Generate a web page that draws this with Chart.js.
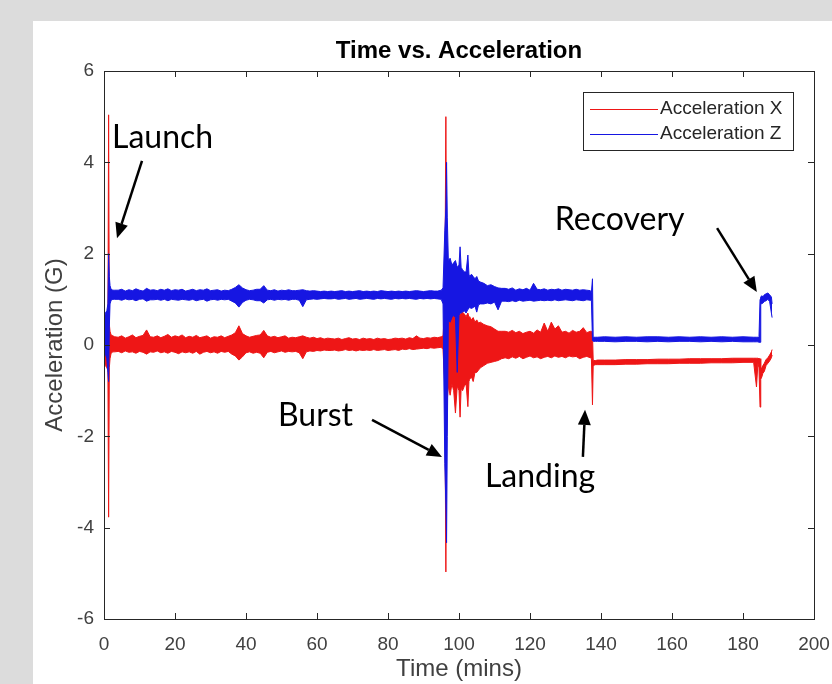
<!DOCTYPE html>
<html>
<head>
<meta charset="utf-8">
<title>Time vs. Acceleration</title>
<script src="https://cdn.jsdelivr.net/npm/chart.js@4.4.1/dist/chart.umd.min.js"></script>
<style>
  html, body { margin: 0; padding: 0; background: #dcdcdc; }
  canvas { display: block; }
</style>
</head>
<body>
<canvas id="accelChart" width="832" height="684"></canvas>
<script>
// Time samples (minutes), denser around launch, burst, landing and recovery.
const minutes = [
  0, 0.4, 0.8, 1.1, 1.3, 1.5, 1.7, 2, 2.5, 3,
  4, 5, 6, 7, 8, 9, 10, 11, 12, 13,
  14, 15, 16, 17, 18, 19, 20, 21, 22, 23,
  24, 25, 26, 27, 28, 29, 30, 31, 32, 33,
  34, 35, 36, 37, 38, 39, 40, 41, 42, 43,
  44, 45, 46, 47, 48, 49, 50, 51, 52, 53,
  54, 55, 56, 57, 58, 59, 60, 61, 62, 63,
  64, 65, 66, 67, 68, 69, 70, 71, 72, 73,
  74, 75, 76, 77, 78, 79, 80, 81, 82, 83,
  84, 85, 86, 87, 88, 89, 90, 91, 92, 93,
  94, 95,
  95.5, 96, 96.3, 96.5, 96.7, 97, 97.5, 98, 98.5, 99, 99.5, 100, 100.3, 100.6, 101, 101.5,
  102, 102.5, 102.8, 103, 103.5, 104, 104.5, 105, 105.5, 106, 107, 108, 109, 110, 111, 112,
  113, 114, 115, 116, 117, 118, 119, 120, 121, 122, 123, 124, 125,
  126, 127, 128, 129, 130, 131, 132, 133, 134, 135, 136, 137,
  137.3, 137.6, 137.8, 138, 138.5, 139,
  141, 144, 147, 150, 153, 156, 159, 162, 165, 168, 171, 174, 177, 180, 183,
  183.8, 184.2, 184.5, 184.8, 185, 185.3, 185.6, 186, 186.5, 187, 187.5, 188, 188.2
];

// Acceleration X (G): upper and lower edge of the noise band
const accelXHigh = [
  0.15, 0.2, 0.25, 0.3, 5.04, 0.45, 0.3, 0.22, 0.2, 0.18,
  0.17, 0.2, 0.15, 0.18, 0.22, 0.16, 0.19, 0.21, 0.33, 0.18,
  0.17, 0.2, 0.16, 0.19, 0.23, 0.17, 0.2, 0.18, 0.22, 0.16,
  0.19, 0.17, 0.21, 0.16, 0.18, 0.2, 0.15, 0.18, 0.17, 0.2,
  0.16, 0.19, 0.22, 0.27, 0.42, 0.25, 0.2, 0.17, 0.19, 0.21,
  0.22, 0.32, 0.2, 0.17, 0.19, 0.16, 0.18, 0.2, 0.15, 0.17,
  0.16, 0.18, 0.2, 0.17, 0.15, 0.17, 0.14, 0.16, 0.13, 0.15,
  0.14, 0.13, 0.15, 0.12, 0.14, 0.16, 0.13, 0.14, 0.12, 0.15,
  0.13, 0.14, 0.12, 0.15, 0.13, 0.14, 0.12, 0.13, 0.15, 0.14,
  0.15, 0.13, 0.16, 0.14, 0.2, 0.15, 0.14, 0.16, 0.15, 0.17,
  0.16, 0.18,
  0.2, 0.8, 5.0, 1.5, 0.9, 0.75, 0.7, 0.78, 0.65, 0.72, 0.7, 0.75, 0.65, 0.7, 0.72, 0.68,
  0.62, 0.7, 0.6, 0.62, 0.55, 0.6, 0.5, 0.55, 0.48, 0.5, 0.45, 0.42, 0.4, 0.35, 0.3, 0.3,
  0.3, 0.28, 0.32, 0.27, 0.3, 0.25, 0.28, 0.3, 0.26, 0.33, 0.28, 0.48, 0.3,
  0.5, 0.35, 0.42, 0.28, 0.3, 0.26, 0.32, 0.28, 0.3, 0.38, 0.27, 0.3,
  0.3, 0.25, -0.33, -0.34, -0.34, -0.33,
  -0.33, -0.33, -0.32, -0.32, -0.32, -0.31, -0.31, -0.31, -0.3, -0.3, -0.3, -0.3, -0.29, -0.29, -0.29,
  -0.29, -0.29, -0.3, -0.3, -0.55, -0.5, -0.45, -0.4, -0.32, -0.28, -0.22, -0.15, -0.1
];
const accelXLow = [
  -0.35, -0.45, -0.5, -0.55, -3.77, -0.5, -0.3, -0.18, -0.15, -0.15,
  -0.14, -0.17, -0.13, -0.16, -0.15, -0.18, -0.14, -0.16, -0.2, -0.15,
  -0.16, -0.13, -0.17, -0.15, -0.18, -0.14, -0.16, -0.19, -0.15, -0.17,
  -0.15, -0.18, -0.14, -0.2, -0.16, -0.14, -0.17, -0.15, -0.18, -0.14,
  -0.16, -0.14, -0.2, -0.24, -0.33, -0.26, -0.17, -0.15, -0.18, -0.16,
  -0.18, -0.28, -0.16, -0.14, -0.17, -0.15, -0.13, -0.16, -0.14, -0.15,
  -0.14, -0.17, -0.3, -0.15, -0.13, -0.14, -0.12, -0.13, -0.11, -0.12,
  -0.12, -0.11, -0.13, -0.12, -0.1, -0.12, -0.11, -0.13, -0.11, -0.12,
  -0.11, -0.12, -0.1, -0.12, -0.11, -0.1, -0.12, -0.11, -0.1, -0.12,
  -0.09, -0.1, -0.08, -0.1, -0.09, -0.08, -0.07, -0.08, -0.06, -0.07,
  -0.06, -0.05,
  -0.1, -0.9, -4.97, -2.0, -1.2, -0.9, -1.1, -0.85, -1.0, -1.49, -0.9, -1.0, -1.58, -0.95, -1.0, -0.9,
  -0.85, -1.35, -0.8, -0.75, -0.7, -0.8, -0.6, -0.6, -0.55, -0.5, -0.45, -0.4, -0.38, -0.36, -0.34, -0.3,
  -0.28, -0.3, -0.26, -0.29, -0.25, -0.3, -0.27, -0.24, -0.28, -0.26, -0.3, -0.27, -0.25,
  -0.28, -0.24, -0.27, -0.25, -0.28, -0.24, -0.26, -0.25, -0.3, -0.27, -0.25, -0.28,
  -0.3, -1.31, -0.45, -0.44, -0.43, -0.43,
  -0.43, -0.43, -0.42, -0.42, -0.41, -0.41, -0.41, -0.4, -0.4, -0.4, -0.39, -0.39, -0.39, -0.38, -0.38,
  -0.92, -0.4, -0.5, -1.36, -0.75, -0.7, -0.62, -0.58, -0.45, -0.4, -0.35, -0.28, -0.22
];

// Acceleration Z (G): upper and lower edge of the noise band
const accelZHigh = [
  0.55, 0.7, 0.75, 0.9, 2.0, 1.5, 1.3, 1.22, 1.2, 1.2,
  1.2, 1.22, 1.18, 1.21, 1.19, 1.23, 1.2, 1.18, 1.24, 1.2,
  1.21, 1.19, 1.22, 1.2, 1.23, 1.19, 1.21, 1.2, 1.22, 1.18,
  1.2, 1.22, 1.19, 1.21, 1.2, 1.23, 1.19, 1.2, 1.21, 1.18,
  1.2, 1.19, 1.22, 1.26, 1.32, 1.25, 1.21, 1.19, 1.2, 1.22,
  1.22, 1.3, 1.2, 1.19, 1.21, 1.18, 1.2, 1.19, 1.21, 1.19,
  1.19, 1.2, 1.21, 1.19, 1.18, 1.19, 1.18, 1.17, 1.18, 1.17,
  1.18, 1.17, 1.18, 1.19, 1.17, 1.18, 1.17, 1.18, 1.19, 1.17,
  1.18, 1.17, 1.18, 1.17, 1.19, 1.18, 1.17, 1.18, 1.17, 1.18,
  1.17, 1.18, 1.17, 1.18, 1.19, 1.18, 1.17, 1.18, 1.19, 1.18,
  1.18, 1.2,
  1.25, 2.5, 3.0, 4.0, 2.8, 1.85, 1.9, 1.75, 1.8, 1.85, 1.7, 1.75, 2.15, 1.7, 1.65, 1.6,
  1.6, 1.97, 1.55, 1.5, 1.55, 1.5, 1.45, 1.5, 1.4, 1.38, 1.35, 1.3, 1.32, 1.28, 1.25, 1.24,
  1.24, 1.22, 1.25, 1.2, 1.23, 1.21, 1.24, 1.2, 1.35, 1.22, 1.21, 1.23, 1.2,
  1.22, 1.21, 1.23, 1.2, 1.22, 1.21, 1.2, 1.22, 1.2, 1.21, 1.2, 1.19,
  1.15, 1.45, 0.16, 0.17, 0.17, 0.17,
  0.18, 0.17, 0.18, 0.17, 0.18, 0.18, 0.17, 0.18, 0.17, 0.18, 0.17, 0.18, 0.17, 0.18, 0.17,
  0.17, 0.17, 0.16, 1.0, 1.05, 1.08, 1.05, 1.1, 1.12, 1.14, 1.1, 1.05, 0.9
];
const accelZLow = [
  0.0, -0.2, -0.3, -0.6, -0.8, 0.4, 0.9, 0.98, 1.0, 1.0,
  1.0, 0.98, 1.01, 0.99, 1.0, 0.97, 1.0, 1.01, 0.96, 0.99,
  0.99, 1.0, 0.98, 1.0, 0.97, 1.0, 0.99, 0.98, 1.0, 0.99,
  0.98, 1.0, 0.97, 0.99, 1.0, 0.96, 0.99, 1.0, 0.98, 1.0,
  0.99, 1.0, 0.96, 0.92, 0.83, 0.93, 0.98, 1.0, 0.99, 0.97,
  0.97, 0.92, 0.99, 1.0, 0.98, 1.0, 0.99, 1.0, 0.98, 1.0,
  1.0, 0.98, 0.84, 0.99, 1.0, 1.01, 1.0, 1.01, 1.02, 1.01,
  1.01, 1.02, 1.0, 1.01, 1.02, 1.0, 1.01, 1.02, 1.0, 1.01,
  1.02, 1.01, 1.0, 1.02, 1.01, 1.02, 1.01, 1.0, 1.02, 1.01,
  1.02, 1.01, 1.02, 1.01, 1.0, 1.02, 1.01, 1.02, 1.01, 1.02,
  1.01, 1.0,
  0.9, -2.6, -3.5, -4.33, -2.0, 0.55, 0.5, 0.6, 0.65, 0.6, -0.6, 0.65, 0.7, 0.7, 0.72, 0.75,
  0.7, 0.78, 0.8, 0.82, 0.8, 0.82, 0.85, 0.72, 0.88, 0.9, 0.9, 0.92, 0.9, 0.94, 0.77, 0.96,
  0.96, 0.95, 0.97, 0.95, 0.98, 0.96, 0.97, 0.98, 0.96, 0.97, 0.98, 0.97, 0.98,
  0.97, 0.99, 0.97, 0.98, 0.99, 0.98, 0.97, 0.99, 0.98, 0.97, 0.99, 0.98,
  0.97, 0.1, 0.08, 0.08, 0.08, 0.08,
  0.08, 0.07, 0.08, 0.08, 0.07, 0.08, 0.07, 0.08, 0.08, 0.07, 0.08, 0.07, 0.08, 0.07, 0.07,
  0.07, 0.07, 0.06, 0.06, 0.92, 0.9, 0.92, 0.95, 0.97, 1.0, 0.95, 0.7, 0.6
];

const xTicks = { min: 0, max: 200, step: 20 };
const yTicks = { min: -6, max: 6, step: 2 };

const RED = 'rgb(238, 22, 22)';
const BLUE = 'rgb(22, 22, 226)';

// Hand-written callouts, anchored in data coordinates
const notes = [
  { text: 'Launch',   at: [2.25, 4.31],  from: [10.7, 4.03],  to: [3.66, 2.34] },
  { text: 'Burst',    at: [49.0, -1.77], from: [75.5, -1.64], to: [95.2, -2.45] },
  { text: 'Landing',  at: [107.3, -3.11], from: [134.9, -2.45], to: [135.5, -1.42] },
  { text: 'Recovery', at: [127.0, 2.52], from: [172.7, 2.56], to: [183.9, 1.16] }
];

function points(values) {
  return minutes.map((t, i) => ({ x: t, y: values[i] }));
}

// a noisy trace drawn as the filled area between its upper and lower edges
function band(label, high, low, color, order) {
  return [
    { label: label, data: points(high), borderColor: color, backgroundColor: color, fill: false, order: order },
    { label: '', data: points(low), borderColor: color, backgroundColor: color, fill: '-1', order: order }
  ];
}

// grey page with white figure panel
const figureBackground = {
  id: 'figureBackground',
  beforeDraw(chart) {
    const ctx = chart.ctx;
    ctx.save();
    ctx.fillStyle = '#dcdcdc';
    ctx.fillRect(0, 0, chart.width, chart.height);
    ctx.fillStyle = '#ffffff';
    ctx.fillRect(33, 21, chart.width - 33, chart.height - 21);
    ctx.restore();
  }
};

// MATLAB style box with inward ticks on all four sides
const axesBox = {
  id: 'axesBox',
  afterDatasetsDraw(chart) {
    const { ctx, chartArea: a, scales: { x, y } } = chart;
    ctx.save();
    ctx.strokeStyle = '#262626';
    ctx.lineWidth = 1;
    ctx.beginPath();
    x.ticks.forEach(t => {
      const px = Math.round(x.getPixelForValue(t.value)) + 0.5;
      ctx.moveTo(px, a.bottom); ctx.lineTo(px, a.bottom - 6);
      ctx.moveTo(px, a.top); ctx.lineTo(px, a.top + 6);
    });
    y.ticks.forEach(t => {
      const py = Math.round(y.getPixelForValue(t.value)) + 0.5;
      ctx.moveTo(a.left, py); ctx.lineTo(a.left + 6, py);
      ctx.moveTo(a.right, py); ctx.lineTo(a.right - 6, py);
    });
    ctx.stroke();
    ctx.strokeRect(Math.round(a.left) + 0.5, Math.round(a.top) + 0.5,
      Math.round(a.right - a.left), Math.round(a.bottom - a.top));
    ctx.restore();
  }
};

// boxed legend in the top right of the axes
const boxLegend = {
  id: 'boxLegend',
  afterDraw(chart) {
    const { ctx, chartArea: a } = chart;
    const entries = chart.data.datasets.filter(d => d.label);
    const left = Math.round(a.right) - 231, top = Math.round(a.top) + 21, w = 210, h = 58;
    ctx.save();
    ctx.fillStyle = '#ffffff';
    ctx.fillRect(left, top, w, h);
    ctx.strokeStyle = '#262626';
    ctx.lineWidth = 1;
    ctx.strokeRect(left + 0.5, top + 0.5, w, h);
    ctx.font = "19px 'Liberation Sans', Arial, sans-serif";
    ctx.textBaseline = 'middle';
    ctx.fillStyle = '#262626';
    entries.forEach((d, i) => {
      const cy = top + 17 + i * 25;
      ctx.strokeStyle = d.borderColor;
      ctx.beginPath();
      ctx.moveTo(left + 7, cy + 0.5);
      ctx.lineTo(left + 75, cy + 0.5);
      ctx.stroke();
      ctx.fillText(d.label, left + 77, cy);
    });
    ctx.restore();
  }
};

function drawArrow(ctx, x0, y0, x1, y1) {
  const ang = Math.atan2(y1 - y0, x1 - x0);
  const len = 15, half = 6.5;
  const bx = x1 - len * Math.cos(ang), by = y1 - len * Math.sin(ang);
  ctx.beginPath();
  ctx.moveTo(x0, y0);
  ctx.lineTo(bx, by);
  ctx.stroke();
  ctx.beginPath();
  ctx.moveTo(x1, y1);
  ctx.lineTo(bx + half * Math.sin(ang), by - half * Math.cos(ang));
  ctx.lineTo(bx - half * Math.sin(ang), by + half * Math.cos(ang));
  ctx.closePath();
  ctx.fill();
}

const callouts = {
  id: 'callouts',
  afterDraw(chart) {
    const { ctx, scales: { x, y } } = chart;
    ctx.save();
    ctx.fillStyle = '#000000';
    ctx.strokeStyle = '#000000';
    ctx.lineWidth = 2.5;
    ctx.font = "32px Lato, 'Open Sans', sans-serif";
    ctx.textBaseline = 'alphabetic';
    notes.forEach(n => {
      ctx.fillText(n.text, x.getPixelForValue(n.at[0]), y.getPixelForValue(n.at[1]));
      drawArrow(ctx,
        x.getPixelForValue(n.from[0]), y.getPixelForValue(n.from[1]),
        x.getPixelForValue(n.to[0]), y.getPixelForValue(n.to[1]));
    });
    ctx.restore();
  }
};

Chart.defaults.font.family = "'Liberation Sans', Arial, sans-serif";
Chart.defaults.color = '#404040';

const ctx = document.querySelector('#accelChart').getContext('2d');
new Chart(ctx, {
  type: 'line',
  data: {
    datasets: [
      // Z is plotted over X, as in the original figure
      ...band('Acceleration X', accelXHigh, accelXLow, RED, 1),
      ...band('Acceleration Z', accelZHigh, accelZLow, BLUE, 0)
    ]
  },
  options: {
    responsive: false,
    animation: false,
    devicePixelRatio: 1,
    parsing: false,
    elements: {
      point: { radius: 0 },
      line: { borderWidth: 1, tension: 0 }
    },
    layout: { padding: { left: 0, right: 18, top: 0, bottom: 0 } },
    scales: {
      x: {
        type: 'linear',
        min: xTicks.min,
        max: xTicks.max,
        afterFit: s => { s.height = 65; s.paddingLeft = 0; s.paddingRight = 0; },
        ticks: { stepSize: xTicks.step, padding: 14, font: { size: 19 }, color: '#404040' },
        grid: { display: false, drawTicks: false },
        border: { display: false },
        title: { display: true, text: 'Time (mins)', font: { size: 24 }, color: '#404040', padding: { top: 0, bottom: 0 } }
      },
      y: {
        min: yTicks.min,
        max: yTicks.max,
        afterFit: s => { s.width = 104; },
        ticks: { stepSize: yTicks.step, padding: 10, font: { size: 19 }, color: '#404040' },
        grid: { display: false, drawTicks: false },
        border: { display: false },
        title: { display: true, text: 'Acceleration (G)', font: { size: 24 }, color: '#404040', padding: { top: 41, bottom: 0 } }
      }
    },
    plugins: {
      legend: { display: false },
      tooltip: { enabled: false },
      title: {
        display: true,
        fullSize: false,
        text: 'Time vs. Acceleration',
        color: '#000000',
        font: { size: 24, weight: 'bold' },
        padding: { top: 37, bottom: 5.2 }
      }
    }
  },
  plugins: [figureBackground, axesBox, boxLegend, callouts]
});
</script>
</body>
</html>
